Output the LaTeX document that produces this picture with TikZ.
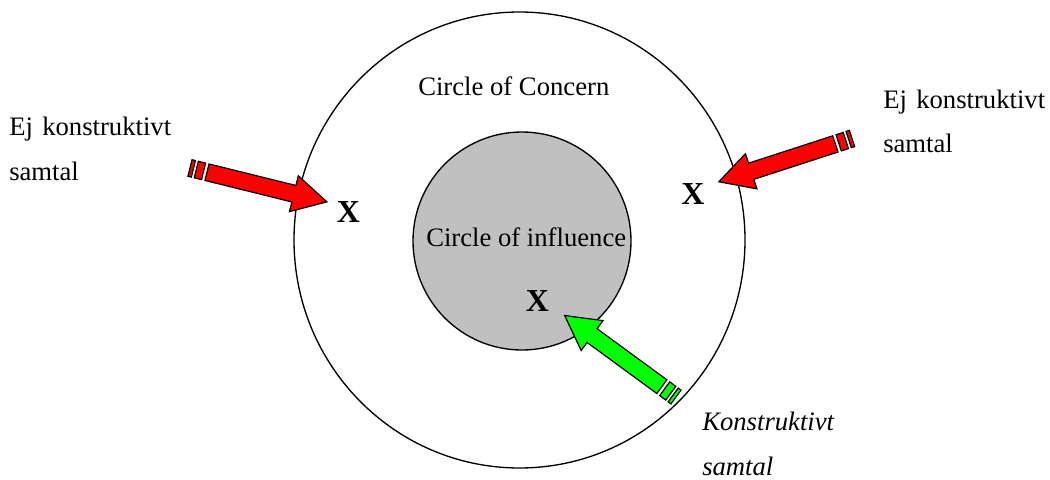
\documentclass[tikz,border=0pt]{standalone}
\usepackage{fontspec}
\setmainfont{Liberation Serif}
\begin{document}
\begin{tikzpicture}[x=0.75pt,y=-0.75pt,
  txt/.style={inner sep=0pt,anchor=base west,font=\fontsize{20}{24}\selectfont},
  itxt/.style={txt,font=\fontsize{20}{24}\selectfont\itshape},
  xmark/.style={inner sep=0pt,font=\fontsize{24}{28}\selectfont\bfseries},
  ring/.style={draw=black,line width=1pt},
  arr/.style={draw=black,line width=0.9pt,line join=miter}]
\useasboundingbox (0,0) rectangle (1050,479);
\newcommand\striparrow[4]{%
  \begin{scope}[shift={(#1)},rotate=#2]
    \filldraw[arr,fill=#4] (0,-8.5) rectangle (3.5,8.5);
    \filldraw[arr,fill=#4] (6.5,-8.5) rectangle (14,8.5);
    \filldraw[arr,fill=#4] (17.5,-8.5) -- ({#3-34},-8.5) -- ({#3-34},-18.5) -- (#3,0)
      -- ({#3-34},18.5) -- ({#3-34},8.5) -- (17.5,8.5) -- cycle;
  \end{scope}}
% circles
\draw[ring] (519.5,240) ellipse [x radius=225.5,y radius=228];
\filldraw[ring,fill={rgb,255:red,192;green,192;blue,192}] (522,241) circle [radius=109];
% labels
\node[txt] (concern) at (418,95) {Circle of Concern};
\node[txt] (influence) at (426,246) {Circle of influence};
\node[txt] (l1) at (9,135) {Ej\hspace{0.1em} konstruktivt};
\node[txt] (l2) at (9,180) {samtal};
\node[txt] (r1) at (883,108) {Ej\hspace{0.1em} konstruktivt};
\node[txt] (r2) at (883,152) {samtal};
\node[itxt] (g1) at (702,430) {Konstruktivt};
\node[itxt] (g2) at (702,475) {samtal};
% X marks
\node[xmark] (xl) at (348.5,212) {X};
\node[xmark] (xr) at (693,194) {X};
\node[xmark] (xi) at (537.5,301) {X};
% arrows
\coordinate (tl) at (190,168);
\coordinate (tr) at (852,138.5);
\coordinate (tg) at (676,397);
\striparrow{tl}{-13.9}{141}{red}
\striparrow{tr}{198}{140}{red}
\striparrow{tg}{143.8}{138}{green}
\end{tikzpicture}
\end{document}
